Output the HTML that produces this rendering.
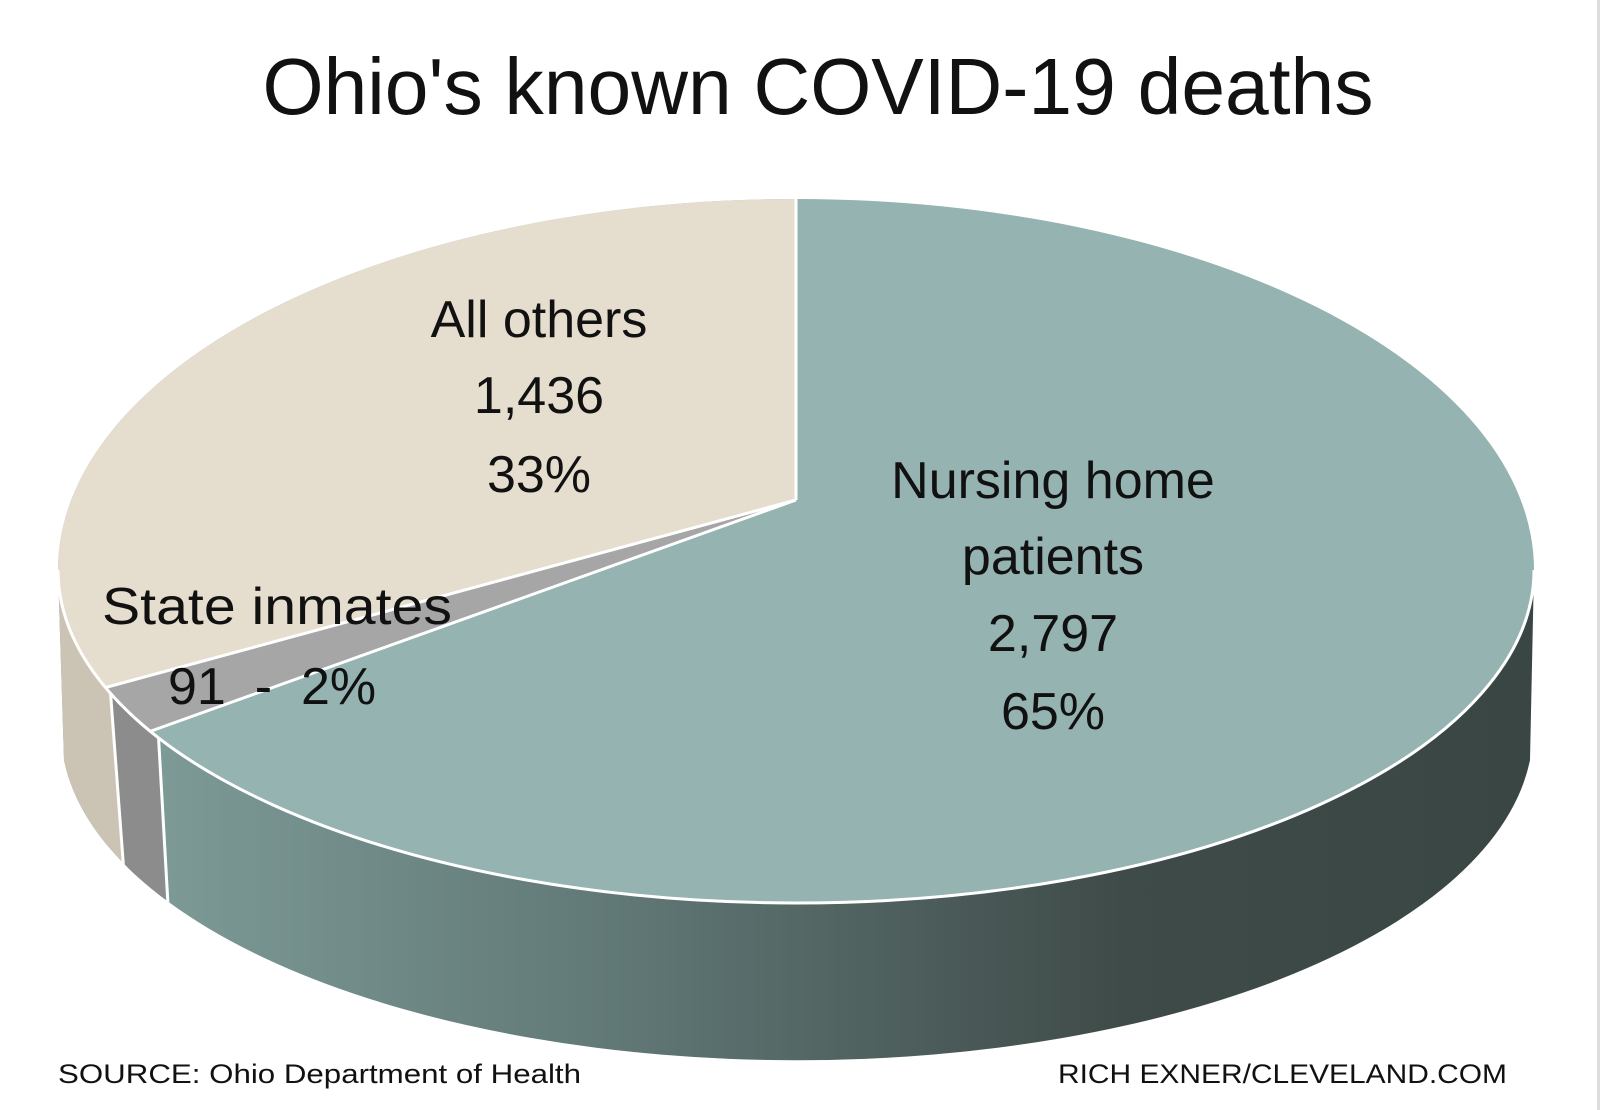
<!DOCTYPE html>
<html><head><meta charset="utf-8"><style>
html,body{margin:0;padding:0;background:#fff;}
svg{display:block;}
text{font-family:"Liberation Sans",sans-serif;fill:#111;}
</style></head><body>
<svg width="1600" height="1110" viewBox="0 0 1600 1110" xmlns="http://www.w3.org/2000/svg">
<defs>
<linearGradient id="ns" x1="158" y1="0" x2="1534" y2="0" gradientUnits="userSpaceOnUse">
<stop offset="0" stop-color="#7d9a97"/>
<stop offset="0.35" stop-color="#5f7674"/>
<stop offset="0.7" stop-color="#3f4b49"/>
<stop offset="1" stop-color="#3a4644"/>
</linearGradient>
<clipPath id="topc"><path d="M58,570 A738,371 0 0,1 1534,570 A738,333 0 0,1 58,570 Z"/></clipPath>
<clipPath id="sidec"><path d="M1534,570 A738,333 0 0,1 58,570 L64,760 A736,330 0 0,0 1530,760 Z"/></clipPath>
</defs>
<rect x="1597" y="0" width="3" height="1110" fill="#ddd"/>
<text x="818" y="114" font-size="80" text-anchor="middle" textLength="1111" lengthAdjust="spacingAndGlyphs">Ohio's known COVID-19 deaths</text>
<g clip-path="url(#sidec)">
<rect x="0" y="500" width="1600" height="600" fill="url(#ns)"/>
<path d="M0,500 L96,500 L141,1100 L0,1100 Z" fill="#cbc3b4"/>
<path d="M96,500 L146.6,500 L174.6,1100 L141,1100 Z" fill="#8c8c8c"/>
<path d="M110,686 L126,900 M158,728 L170,940" stroke="#fff" stroke-width="3"/>
</g>
<g clip-path="url(#topc)">
<rect x="0" y="150" width="1600" height="800" fill="#95b3b0"/>
<path d="M796,500 L-27,723 L-27,0 L796,0 Z" fill="#e5ddce"/>
<path d="M796,500 L-33,796 L-27,723 Z" fill="#a6a6a6"/>
<path d="M796,500 L796,190 M796,500 L100,689 M796,500 L140,735" stroke="#fff" stroke-width="3"/>
</g>
<path d="M1534,570 A738,333 0 0,1 58,570" fill="none" stroke="#fff" stroke-width="3"/>
<g font-size="52" text-anchor="middle">
<text x="539" y="337">All others</text>
<text x="539" y="413">1,436</text>
<text x="539" y="492">33%</text>
<text x="1053" y="498">Nursing home</text>
<text x="1053" y="574">patients</text>
<text x="1053" y="651">2,797</text>
<text x="1053" y="729">65%</text>
</g>
<text x="102" y="624" font-size="52" textLength="350" lengthAdjust="spacingAndGlyphs">State inmates</text>
<text x="168" y="704" font-size="52" xml:space="preserve">91  -  2%</text>
<text x="58" y="1083" font-size="27" textLength="523" lengthAdjust="spacingAndGlyphs">SOURCE: Ohio Department of Health</text>
<text x="1058" y="1083" font-size="27" textLength="449" lengthAdjust="spacingAndGlyphs">RICH EXNER/CLEVELAND.COM</text>
</svg>
</body></html>
